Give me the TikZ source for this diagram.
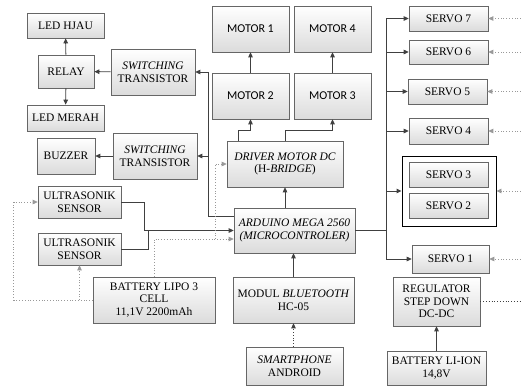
\documentclass[tikz,border=0pt]{standalone}
\usepackage{fontspec}
\setmainfont{Liberation Serif}
\newfontfamily\motorfont{Carlito}
\usetikzlibrary{arrows.meta,shadows}

\tikzset{
	blok/.style={draw=black!60, line width=0.6pt, top color=white, bottom color=black!14, align=center, inner sep=1pt,
		font=\fontsize{11.5}{12.5}\selectfont, drop shadow={opacity=0.25, shadow xshift=1pt, shadow yshift=-1pt}},
	motor/.style={blok, minimum width=77, minimum height=46, font=\motorfont\fontsize{12}{13}\selectfont},
	servo/.style={blok, minimum width=79, minimum height=25},
	garis/.style={draw=black!75, line width=0.9pt, -{Triangle[length=5pt,width=4.5pt]}},
	sambung/.style={draw=black!75, line width=0.9pt},
	daya/.style={draw=black!40, dotted, line width=0.8pt, -{Triangle[length=5pt,width=4.5pt]}},
	dayahitam/.style={draw=black!75, dotted, line width=0.8pt}
}

\begin{document}
\begin{tikzpicture}[x=1pt, y=-1pt]
			%%%%% START %%%%%
			\useasboundingbox (0,0) rectangle (521,389);
			\coordinate (tepi) at (521,0);
			
			\node[blok, minimum width=77, minimum height=25] (ledhijau) at (65.5,25.5) {LED HJAU};
			\node[blok, minimum width=56, minimum height=33] (relay) at (66,71.5) {RELAY};
			\node[blok, minimum width=77, minimum height=26] (ledmerah) at (65.5,118) {LED MERAH};
			\node[blok, minimum width=84, minimum height=46] (switch1) at (153,72) {\textit{SWITCHING}\\TRANSISTOR};
			\node[blok, minimum width=58, minimum height=36] (buzzer) at (66,156) {BUZZER};
			\node[blok, minimum width=84, minimum height=46] (switch2) at (155,156) {\textit{SWITCHING}\\TRANSISTOR};
			
			\node[motor] (motor1) at (250.5,29) {MOTOR 1};
			\node[motor] (motor4) at (332.5,29) {MOTOR 4};
			\node[motor] (motor2) at (250.5,96) {MOTOR 2};
			\node[motor] (motor3) at (332.5,96) {MOTOR 3};
			
			\node[blok, minimum width=116, minimum height=46] (driver) at (285,164) {\textit{DRIVER MOTOR DC}\\(H-\textit{BRIDGE})};
			\node[blok, minimum width=121, minimum height=45] (arduino) at (294.5,230.5) {\textit{ARDUINO MEGA 2560}\\\textit{(MICROCONTROLER)}};
			
			\node[blok, minimum width=83, minimum height=32] (sonik1) at (79.5,202) {ULTRASONIK\\SENSOR};
			\node[blok, minimum width=83, minimum height=32] (sonik2) at (79.5,249) {ULTRASONIK\\SENSOR};
			\node[blok, minimum width=122, minimum height=46] (lipo) at (154,300) {BATTERY LIPO 3\\CELL\\11,1V 2200mAh};
			\node[blok, minimum width=121, minimum height=46] (bluetooth) at (293.5,300) {MODUL \textit{BLUETOOTH}\\HC-05};
			\node[blok, minimum width=97, minimum height=38] (hp) at (294.5,366) {\textit{SMARTPHONE}\\ANDROID};
			
			\node[servo] (servo7) at (448.5,18.5) {SERVO 7};
			\node[servo, minimum height=24] (servo6) at (448.5,52) {SERVO 6};
			\node[servo] (servo5) at (447.5,91.5) {SERVO 5};
			\node[servo, minimum height=26] (servo4) at (448.5,131) {SERVO 4};
			\node[draw=black, line width=0.9pt, fill=white, minimum width=94, minimum height=70] (grup) at (449,191) {};
			\node[servo] (servo3) at (448.5,174.5) {SERVO 3};
			\node[servo] (servo2) at (448.5,205.5) {SERVO 2};
			\node[servo, minimum width=77, minimum height=28] (servo1) at (450.5,259) {SERVO 1};
			\node[blok, minimum width=87, minimum height=49] (regulator) at (436.5,301.5) {REGULATOR\\STEP DOWN\\DC-DC};
			\node[blok, minimum width=99, minimum height=34] (liion) at (436.5,368) {BATTERY LI-ION\\14,8V};
			
			\draw[garis] (relay) -- (ledhijau);
			\draw[garis] (relay) -- (ledmerah);
			\draw[garis] (switch1) -- (relay);
			\draw[garis] (switch2) -- (buzzer);
			
			\draw[garis] (arduino.west |- 0,216) -| (switch1.east -| 208,0) -- (switch1.east);
			\draw[garis] (switch2.east -| 208,0) -- (switch2.east);
			
			\draw[garis] (arduino.north -| driver.south) -- (driver.south);
			\draw[garis] (driver.north -| 238,0) -- (238,130) -| (motor2.south);
			\draw[garis] (driver.north) -- (285,130) -| (motor3.south);
			\draw[garis] (motor2) -- (motor1);
			\draw[garis] (motor3) -- (motor4);
			
			\draw[garis] (sonik1.east) -| (144,230.5) -- (arduino.west);
			\draw[sambung] (sonik2.east) -| (148,230.5);
			\draw[garis] (bluetooth.north) -- (bluetooth.north |- arduino.south);
			\draw[dayahitam, -{Triangle[length=5pt,width=4.5pt]}] (hp.north -| bluetooth.south) -- (bluetooth.south);
			
			\draw[daya] (lipo.north) |- (arduino.west |- 0,239);
			\draw[daya] (215,239) |- (driver.west);
			\draw[daya] (lipo.west) -| ([xshift=-24pt]sonik1.west) -- (sonik1.west);
			\draw[daya] (sonik2.south |- lipo.west) -- (sonik2.south);
			
			\draw[garis] (arduino.east) -| (386,18.5) -- (servo7.west);
			\foreach \s in {servo6,servo5,servo4,grup}
				\draw[garis] (\s.west -| 386,0) -- (\s.west);
			\draw[garis] (386,230.5) |- (servo1.west);
			
			\foreach \s in {servo7,servo6,servo5,servo4,grup,servo1}
				\draw[daya] (\s.east -| tepi) -- (\s.east);
			\draw[dayahitam] (regulator.east) -- (regulator.east -| tepi);
			\draw[garis] (liion) -- (regulator);
			
			%%%%% END %%%%%
\end{tikzpicture}
\end{document}
